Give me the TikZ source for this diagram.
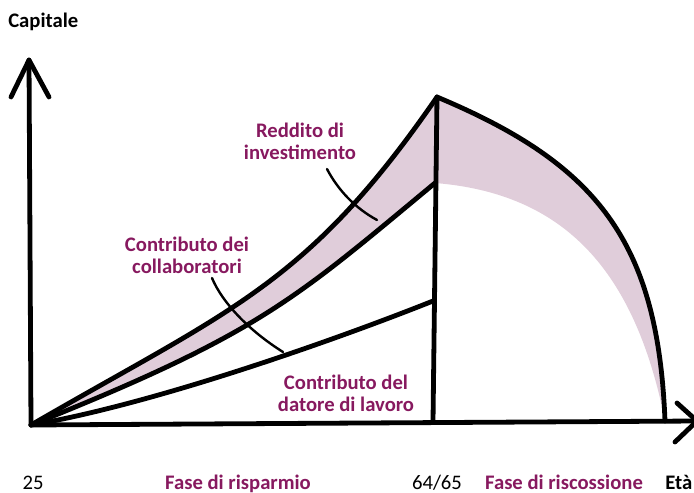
\documentclass[tikz,border=0pt]{standalone}
\usepackage{fontspec}
\setmainfont{Carlito}
\definecolor{plum}{RGB}{135,25,95}
\definecolor{band}{RGB}{224,205,218}
\begin{document}
\begin{tikzpicture}[x=0.75pt,y=-0.75pt,
  thick line/.style={line width=3.6pt,line cap=round,line join=round},
  pointer/.style={line width=1.8pt,line cap=round},
  lbl/.style={font=\bfseries\fontsize{15.5}{16.5}\selectfont,text=plum,align=center,inner sep=0pt},
  blk/.style={font=\bfseries\fontsize{15.5}{16.5}\selectfont,text=black,inner sep=0pt},
  num/.style={font=\fontsize{15.5}{16.5}\selectfont,text=black,inner sep=0pt}]
\useasboundingbox (0,0) rectangle (694,493);
\coordinate (O) at (31,425);
\coordinate (P) at (437,97);
\coordinate (M) at (435,183);
\coordinate (L) at (433,301);
\coordinate (B) at (433,422);
\coordinate (E) at (665,421);
\coordinate (Ytop) at (29,60);
\coordinate (Xend) at (697,421);
% pink bands
\fill[band] (O) .. controls (231,309) and (307,285.5) .. (P) -- (M)
  .. controls (295,299) and (261,333) .. (O) -- cycle;
\fill[band] (P) .. controls (597,164) and (658,241) .. (E)
  .. controls (635,271) and (565,193.4) .. (M) -- cycle;
% curves
\draw[thick line] (O) .. controls (231,309) and (307,285.5) .. (P);
\draw[thick line] (O) .. controls (261,333) and (295,299) .. (M);
\draw[thick line] (O) .. controls (150,405) and (330,342) .. (L);
\draw[thick line] (P) .. controls (597,164) and (658,241) .. (E);
% vertical separator
\draw[thick line] (P) -- (B);
% axes
\draw[thick line] (O) -- (Ytop);
\draw[thick line] (11,97) -- (Ytop) -- (49,97);
\draw[thick line] (O) -- (Xend);
\draw[thick line] (677,403) -- (Xend) -- (675,442);
% pointers
\draw[pointer] (327,169) .. controls (338,190) and (355,208) .. (377,220);
\draw[pointer] (212,278) .. controls (222,302) and (248,330) .. (283,352);
% labels
\node[blk,anchor=west] (cap) at (8,22) {Capitale};
\node[lbl] (red) at (300,141) {Reddito di\\investimento};
\node[lbl] (col) at (187,255) {Contributo dei\\collaboratori};
\node[lbl] (dat) at (346,393.5) {Contributo del\\datore di lavoro};
\node[num,anchor=base] (a25) at (33,489) {25};
\node[lbl,anchor=base] (fr) at (238,489) {Fase di risparmio};
\node[num,anchor=base] (a64) at (437,489) {64/65};
\node[lbl,anchor=base] (fs) at (564,489) {Fase di riscossione};
\node[blk,anchor=base west] (eta) at (665,489) {Età};
\end{tikzpicture}
\end{document}
